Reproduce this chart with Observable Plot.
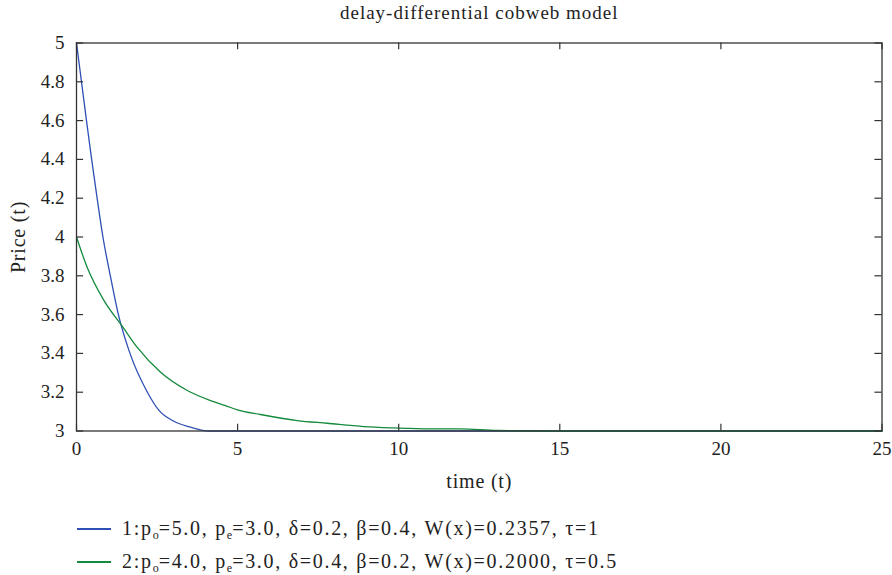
<!DOCTYPE html>
<html>
<head>
<meta charset="utf-8">
<script src="https://cdn.jsdelivr.net/npm/d3@7"></script>
<script src="https://cdn.jsdelivr.net/npm/@observablehq/plot@0.6"></script>
<style>
  html, body { margin: 0; padding: 0; background: #fff; }
  #wrap { position: relative; width: 892px; height: 575px; font-family: "Liberation Serif", "DejaVu Serif", serif; color: #222; overflow: hidden; }
  #chart { position: absolute; left: 0; top: 0; }
  .leg { position: absolute; left: 77px; font-size: 20px; letter-spacing: 1.7px; white-space: nowrap; display: flex; align-items: center; height: 22px; line-height: 22px; }
  .leg .sw { display: inline-block; width: 34px; height: 1.5px; margin-right: 11px; }
  .leg .tx { position: relative; top: -1px; }
  .leg sub { font-size: 12px; vertical-align: -4px; line-height: 0; letter-spacing: 0; }
</style>
</head>
<body>
<div id="wrap">
  <div id="chart"></div>
</div>
<script>
// ---- data ----
const tBlue = [0, 0.155, 0.31, 0.47, 0.64, 0.82, 1.05, 1.30, 1.66, 2.2, 2.56, 3.02, 3.54, 4.1, 10, 25];
const pBlue = [5, 4.8, 4.6, 4.4, 4.2, 4.0, 3.8, 3.6, 3.4, 3.2, 3.106, 3.05, 3.02, 3.0, 3.0, 3.0];
const tGreen = [0, 0.33, 0.85, 1.44, 1.88, 2.61, 3.44, 4.16, 4.62, 4.99, 5.71, 6.85, 7.78, 8.92, 9.85, 10.99, 11.9, 13.06, 15, 25];
const pGreen = [4.0, 3.844, 3.673, 3.535, 3.432, 3.303, 3.209, 3.157, 3.131, 3.109, 3.085, 3.054, 3.04, 3.023, 3.016, 3.011, 3.011, 3.003, 3.0, 3.0];
const xTicks = [0, 5, 10, 15, 20, 25];
const yTicks = [3, 3.2, 3.4, 3.6, 3.8, 4, 4.2, 4.4, 4.6, 4.8, 5];
const seriesNames = ["1", "2"];
const legendLabels = [
  "1:p<sub>o</sub>=5.0, p<sub>e</sub>=3.0, δ=0.2, β=0.4, W(x)=0.2357, τ=1",
  "2:p<sub>o</sub>=4.0, p<sub>e</sub>=3.0, δ=0.4, β=0.2, W(x)=0.2000, τ=0.5"
];
const colors = ["#2e4fb5", "#138a3c"];
const titleText = "delay-differential cobweb model";
const xLabel = "time (t)";
const yLabel = "Price (t)";

const rows = [
  ...tBlue.map((t, i) => ({t, p: pBlue[i], s: seriesNames[0]})),
  ...tGreen.map((t, i) => ({t, p: pGreen[i], s: seriesNames[1]}))
];

const axisColor = "#333";
const fmt = d => String(+d.toFixed(1));

const chart = Plot.plot({
  width: 892,
  height: 500,
  marginLeft: 76,
  marginRight: 10.5,
  marginTop: 42.5,
  marginBottom: 69.5,
  style: {fontFamily: "Liberation Serif, DejaVu Serif, serif", fontSize: "19px", color: "#222", background: "#fff"},
  x: {domain: [0, 25]},
  y: {domain: [3, 5]},
  color: {domain: seriesNames, range: colors},
  marks: [
    Plot.line(rows, {x: "t", y: "p", z: "s", stroke: "s", strokeWidth: 1.3, curve: "monotone-x"}),
    // inward ticks
    Plot.ruleX(xTicks, {x: d => d, y1: 3, y2: 3.035, stroke: axisColor, strokeWidth: 1.2}),
    Plot.ruleX(xTicks, {x: d => d, y1: 5, y2: 4.965, stroke: axisColor, strokeWidth: 1.2}),
    Plot.ruleY(yTicks, {y: d => d, x1: 0, x2: 0.22, stroke: axisColor, strokeWidth: 1.2}),
    Plot.ruleY(yTicks, {y: d => d, x1: 25, x2: 24.78, stroke: axisColor, strokeWidth: 1.2}),
    Plot.frame({stroke: axisColor, strokeWidth: 1.3}),
    Plot.axisX(xTicks, {tickSize: 0, tickPadding: 10, tickFormat: fmt, label: null, fontSize: 19}),
    Plot.axisY(yTicks, {tickSize: 0, tickPadding: 12, tickFormat: fmt, label: null, fontSize: 19}),
    Plot.text([titleText], {frameAnchor: "top", dy: -30, lineAnchor: "middle", textAnchor: "middle", text: d => d, fontSize: 19}),
    Plot.text([xLabel], {frameAnchor: "bottom", dy: 50.5, lineAnchor: "middle", textAnchor: "middle", text: d => d, fontSize: 20}),
    Plot.text([yLabel], {frameAnchor: "left", dx: -58, rotate: -90, lineAnchor: "middle", textAnchor: "middle", text: d => d, fontSize: 20})
  ]
});
document.getElementById("chart").appendChild(chart);
// slight letter spacing on title/labels to match the wider serif of the reference
chart.querySelectorAll("text").forEach(t => {
  const s = t.textContent;
  if (s === titleText) t.setAttribute("letter-spacing", "1");
  if (s === xLabel || s === yLabel) t.setAttribute("letter-spacing", "0.8");
});

const wrap = document.getElementById("wrap");
const legTops = [518, 551];
legendLabels.forEach((lab, i) => {
  const div = document.createElement("div");
  div.className = "leg";
  div.style.top = legTops[i] + "px";
  div.innerHTML = `<span class="sw" style="background:${colors[i]}"></span><span class="tx">${lab}</span>`;
  wrap.appendChild(div);
});
</script>
</body>
</html>
